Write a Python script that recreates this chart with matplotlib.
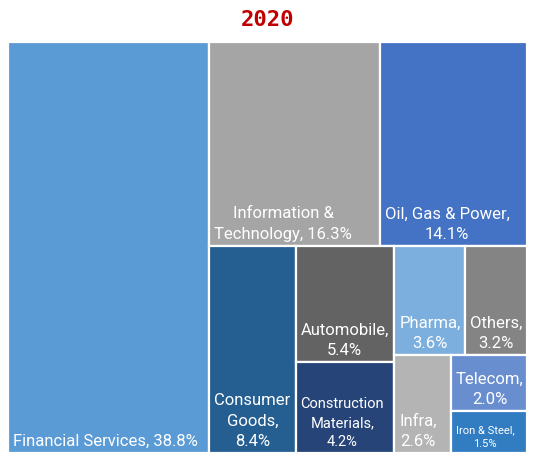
import matplotlib
matplotlib.use("Agg")
import matplotlib.pyplot as plt
from matplotlib.patches import Rectangle

sectors = ["Financial Services", "Information &\nTechnology", "Oil, Gas & Power",
           "Consumer\nGoods", "Automobile", "Construction\nMaterials", "Pharma",
           "Others", "Infra", "Telecom", "Iron & Steel"]
shares = [38.8, 16.3, 14.1, 8.4, 5.4, 4.2, 3.6, 3.2, 2.6, 2.0, 1.5]
# how many tiles go into each strip of the squarified layout
strip_sizes = [1, 2, 1, 2, 2, 1, 1, 1]

colors = ["#5B9BD5", "#A5A5A5", "#4472C4", "#255E91", "#636363", "#264478",
          "#7CAFDD", "#848484", "#B4B4B4", "#698ED0", "#327DC2"]
font_sizes = [12, 12, 12, 12, 12, 10.5, 12, 12, 12, 12, 8]
label_sep = [", ", ", ", ",\n", ",\n", ",\n", ",\n", ",\n", ",\n", ",\n", ",\n", ",\n"]


def layout(values, strips, x, y, w, h):
    # strips laid along the shorter side of what is left, y measured from top
    rects = []
    i = 0
    for n in strips:
        group = values[i:i + n]
        gsum = sum(group)
        frac = gsum / sum(values[i:])
        if w >= h:
            sw = w * frac
            yy = y
            for v in group:
                hh = h * v / gsum
                rects.append((x, yy, sw, hh))
                yy += hh
            x += sw
            w -= sw
        else:
            sh = h * frac
            xx = x
            for v in group:
                ww = w * v / gsum
                rects.append((xx, y, ww, sh))
                xx += ww
            y += sh
            h -= sh
        i += n
    return rects


W, H = 519.0, 411.0
rects = layout(shares, strip_sizes, 0, 0, W, H)

fig = plt.figure(figsize=(5.37, 4.63), dpi=100)
ax = fig.add_axes([8 / 537, 10 / 463, 519 / 537, 411 / 463])
ax.set_xlim(0, W)
ax.set_ylim(H, 0)
ax.axis("off")

for (x, y, w, h), name, val, c, fs, sep in zip(rects, sectors, shares, colors,
                                               font_sizes, label_sep):
    ax.add_patch(Rectangle((x, y), w, h, facecolor=c, edgecolor="white", lw=1.6))
    label = f"{name}{sep}{val:.1f}%"
    ax.text(x + 5, y + h - 4, label, color="white", fontsize=fs,
            family="Roboto", ha="left", va="bottom",
            multialignment="center", linespacing=1.45)

fig.text(267 / 537, 1 - 20 / 463, "2020", color="#C00000", fontsize=16,
         fontweight="bold", family="DejaVu Sans Mono", ha="center", va="center")

fig.savefig("out.png", dpi=100)
